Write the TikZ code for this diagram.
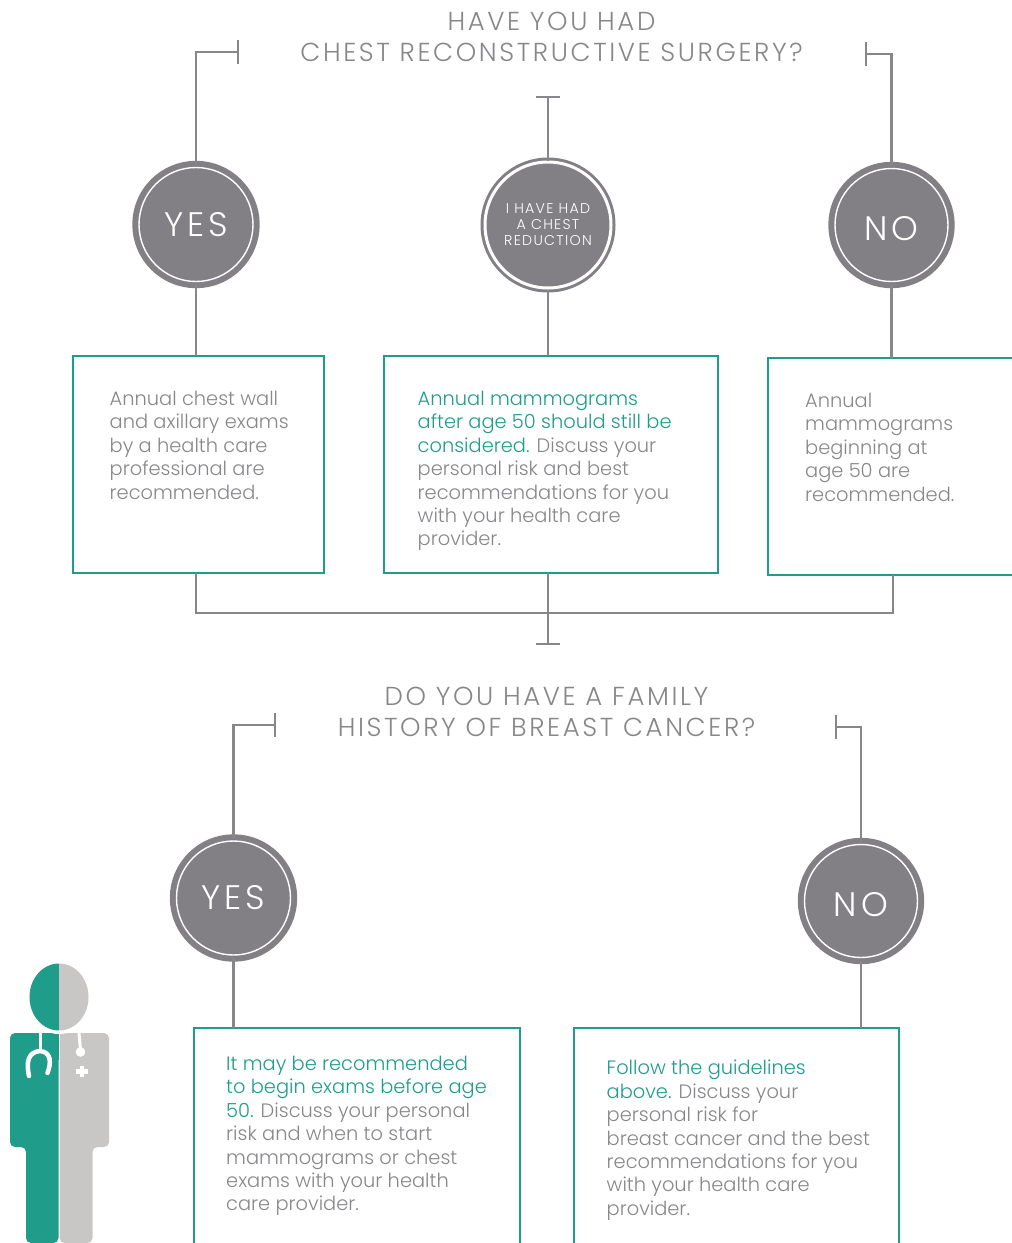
\documentclass[tikz,border=0pt]{standalone}
\usepackage{fontspec}
\setmainfont{Poppins}[UprightFont=* Light]
\usetikzlibrary{arrows.meta}
\definecolor{linegray}{HTML}{87868A}
\definecolor{discgray}{HTML}{828085}
\definecolor{textgray}{HTML}{87878A}
\definecolor{boxteal}{HTML}{1F9C8A}
\definecolor{suitgray}{HTML}{C8C7C5}
\newcommand{\hl}[1]{\textcolor{boxteal}{#1}}
\newcommand{\spaced}[1]{\addfontfeatures{LetterSpace=#1}}
\newcommand{\lowered}{\rule{0pt}{31pt}}
\tikzset{
	wire/.style={draw=linegray, line width=2.2pt},
	teeend/.style={wire, -{Bar[width=24pt, length=0pt]}},
	answer/.style={circle, fill=discgray, draw=discgray, line width=6pt, double=white, double distance=1.4pt, minimum size=114pt, inner sep=0pt, text=white, font=\fontsize{34}{34}\selectfont\spaced{12}},
	answerno/.style={answer, minimum size=113pt},
	answersmall/.style={answer, line width=3pt, double distance=3pt, minimum size=126pt, align=center, font=\fontsize{14.2}{16}\selectfont\spaced{9}},
	advice/.style={draw=boxteal, line width=2.4pt, anchor=north west, inner sep=0pt, outer sep=0pt},
	advicetext/.style={anchor=north west, inner sep=0pt, align=left, text=textgray, font=\fontsize{19.4}{23.4}\selectfont},
	question/.style={align=center, inner sep=0pt, text=textgray, font=\fontsize{26}{31}\selectfont\spaced{10}},
}
\begin{document}
\begin{tikzpicture}[x=1pt, y=-1pt]
	\useasboundingbox (0, 0) rectangle (1012, 1243);
	% first question
	\node[question] (askone) at (551.5, 36.5) {HAVE YOU HAD\\CHEST RECONSTRUCTIVE SURGERY?};
	\node[answer] (yesone) at (196, 224.5) {YES};
	\node[answersmall] (reduction) at (548, 225) {I HAVE HAD\\A CHEST\\REDUCTION};
	\node[answerno] (noone) at (891.5, 225) {\lowered NO};
	\node[advice, minimum width=251pt, minimum height=217pt] (boxyes) at (73, 356) {};
	\node[advice, minimum width=334pt, minimum height=217pt] (boxreduction) at (384, 356) {};
	\node[advice, minimum width=260pt, minimum height=217pt] (boxno) at (768, 358) {};
	\node[advicetext] (textyes) at (109.5, 391) {Annual chest wall\\and axillary exams\\by a health care\\professional are\\recommended.};
	\node[advicetext] (textreduction) at (417.5, 391) {\hl{Annual mammograms}\\\hl{after age 50 should still be}\\\hl{considered.} Discuss your\\personal risk and best\\recommendations for you\\with your health care\\provider.};
	\node[advicetext] (textno) at (805, 393) {Annual\\mammograms\\beginning at\\age 50 are\\recommended.};
	\coordinate (teeyes) at (239, 52);
	\coordinate (teereduction) at (548, 96);
	\coordinate (teeno) at (865, 54);
	\draw[teeend] (yesone) |- (teeyes);
	\draw[teeend] (reduction) -- (teereduction);
	\draw[teeend] (noone) |- (teeno);
	\draw[wire] (yesone) -- (yesone |- boxyes.north);
	\draw[wire] (reduction) -- (reduction |- boxreduction.north);
	\draw[wire] (noone) -- (noone |- boxno.north);
	% join
	\coordinate (joinleft) at (196, 613);
	\coordinate (joinmid) at (548, 613);
	\coordinate (joinright) at (893, 613);
	\coordinate (teejoin) at (548, 645);
	\draw[wire, line width=2pt] (joinleft |- boxyes.south) -- (joinleft) -- (joinright) -- (joinright |- boxno.south);
	\draw[teeend] (boxreduction.south -| joinmid) -- (teejoin);
	% second question
	\node[question] (asktwo) at (546.5, 711.5) {DO YOU HAVE A FAMILY\\HISTORY OF BREAST CANCER?};
	\node[answer] (yestwo) at (233.5, 898) {YES};
	\node[answerno] (notwo) at (861, 901) {\lowered NO};
	\node[advice, minimum width=326pt, minimum height=240pt] (boxfamily) at (194, 1028) {};
	\node[advice, minimum width=325pt, minimum height=240pt] (boxnofamily) at (574, 1028) {};
	\node[advicetext] (textfamily) at (226, 1056) {\hl{It may be recommended}\\\hl{to begin exams before age}\\\hl{50.} Discuss your personal\\risk and when to start\\mammograms or chest\\exams with your health\\care provider.};
	\node[advicetext] (textnofamily) at (606.5, 1060) {\hl{Follow the guidelines}\\\hl{above.} Discuss your\\personal risk for\\breast cancer and the best\\recommendations for you\\with your health care\\provider.};
	\coordinate (teefamily) at (276, 725);
	\coordinate (teenofamily) at (835, 727);
	\draw[teeend] (yestwo) |- (teefamily);
	\draw[teeend] (notwo) |- (teenofamily);
	\draw[wire] (yestwo) -- (yestwo |- boxfamily.north);
	\draw[wire] (notwo) -- (notwo |- boxnofamily.north);
	% figure
	\fill[boxteal, rounded corners=5pt] (58.5, 1033) -- (10, 1033) -- (10, 1147) -- (26, 1147) -- (26, 1243) -- (58.5, 1243) -- cycle;
	\fill[suitgray, rounded corners=5pt] (59.5, 1033) -- (109, 1033) -- (109, 1147) -- (92.5, 1147) -- (92.5, 1243) -- (59.5, 1243) -- cycle;
	\fill[boxteal] (40, 1033) rectangle (58.5, 1060);
	\fill[suitgray] (59.5, 1033) rectangle (78, 1060);
	\fill[white] (59, 997) ellipse [x radius=33, y radius=37];
	\begin{scope}
		\clip (0, 950) rectangle (59, 1040);
		\fill[boxteal] (59, 997) ellipse [x radius=29.5, y radius=33.5];
	\end{scope}
	\begin{scope}
		\clip (59, 950) rectangle (120, 1040);
		\fill[suitgray] (59, 997) ellipse [x radius=29.5, y radius=33.5];
	\end{scope}
	\draw[white, line width=4.5pt, line cap=round] (29, 1076) .. controls (26, 1062) and (28, 1052) .. (40, 1051) .. controls (52, 1052) and (51, 1064) .. (47.5, 1073);
	\draw[white, line width=3pt] (40, 1033) -- (40, 1051);
	\draw[white, line width=3pt] (79, 1033) -- (80.5, 1050);
	\fill[white] (80.5, 1052) circle (4.8);
	\fill[white] (79.5, 1065.5) rectangle (84, 1077);
	\fill[white] (76, 1069) rectangle (88, 1073.5);
\end{tikzpicture}
\end{document}
